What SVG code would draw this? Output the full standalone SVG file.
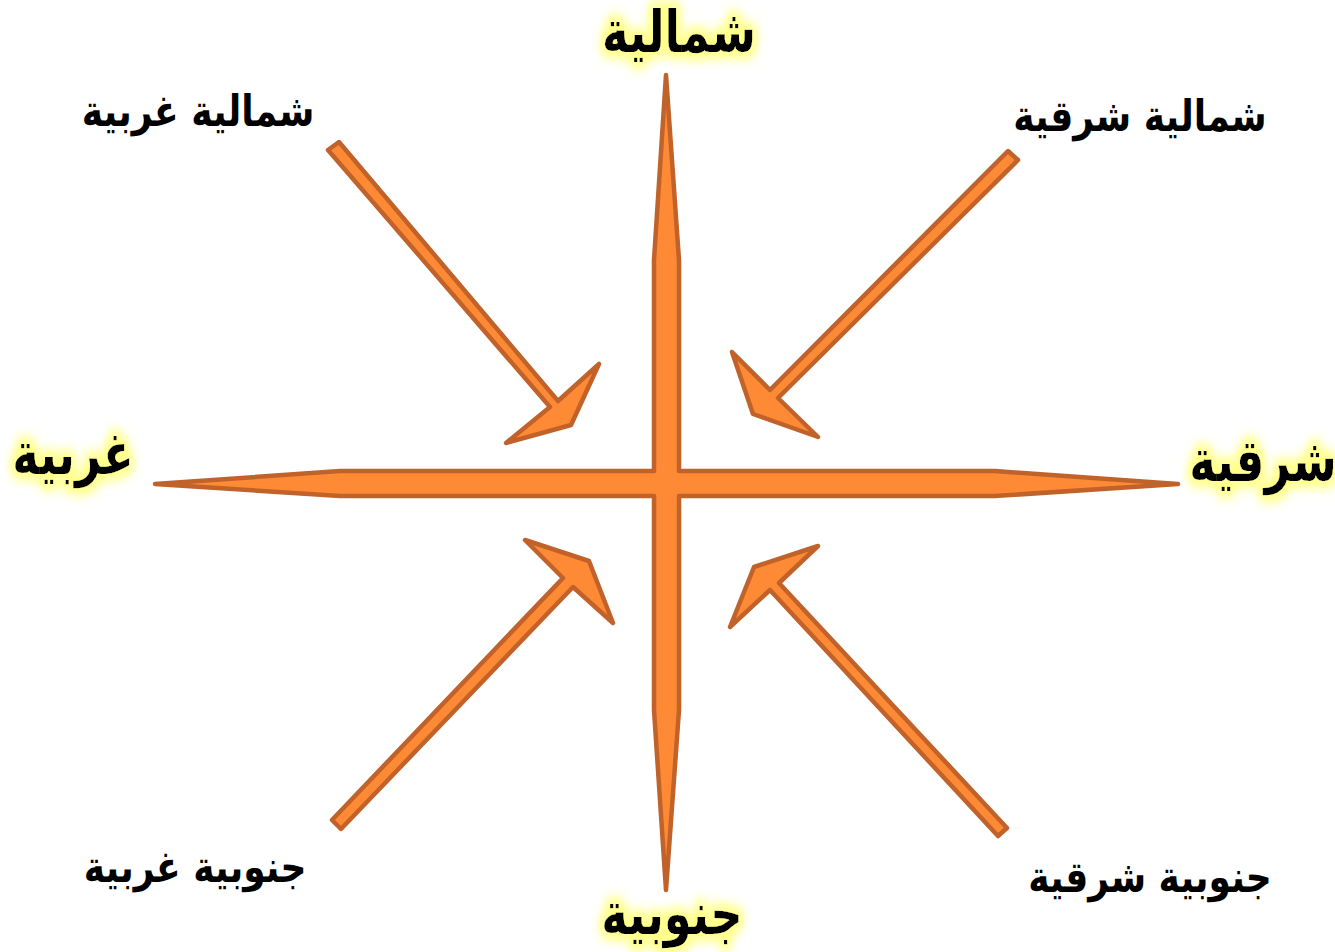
<svg xmlns="http://www.w3.org/2000/svg" width="1335" height="952" viewBox="0 0 1335 952">
<style>
.shape{fill:#FF8A35;stroke:#C0622A;stroke-width:4.5;stroke-linejoin:round}
.main{font-family:"DejaVu Sans",sans-serif;font-weight:bold;font-size:45px;fill:#000;text-anchor:middle;filter:url(#glow)}
.sub{font-family:"DejaVu Sans",sans-serif;font-weight:bold;font-size:36px;fill:#000;text-anchor:middle}
</style>
<defs>
<filter id="glow" x="-30%" y="-40%" width="160%" height="180%">
<feMorphology in="SourceAlpha" operator="dilate" radius="3" result="d"/>
<feGaussianBlur in="d" stdDeviation="5" result="b"/>
<feFlood flood-color="#FFFF8C" result="c"/>
<feComposite in="c" in2="b" operator="in" result="g"/>
<feMerge><feMergeNode in="g"/><feMergeNode in="g"/><feMergeNode in="SourceGraphic"/></feMerge>
</filter>
</defs>
<rect width="1335" height="952" fill="#fff"/>
<g id="connectors">
<path id="cross" class="shape" d="M666,75 L679,260 L679,471 L995,471 L1178,484 L995,496 L679,496 L679,710 L666,890 L654,710 L654,496 L340,496 L155,484 L340,471 L654,471 L654,260 Z"/>
<path id="arrow-nw" class="shape" d="M328,150 L339,142 L558,401 L599,364 L571,425 L506,443 L550,407 Z"/>
<path id="arrow-ne" class="shape" d="M1008,151 L1018,160 L778,398 L818,437 L753,414 L732,352 L770,390 Z"/>
<path id="arrow-sw" class="shape" d="M525,540 L589,561 L613,623 L573,587 L341,829 L332,820 L563,578 Z"/>
<path id="arrow-se" class="shape" d="M818,546 L754,567 L730,627 L770,590 L998,836 L1007,828 L779,583 Z"/>
</g>
<g id="north"><text class="main" transform="translate(679,52) scale(1,1.3)">شمالية</text></g>
<g id="south"><text class="main" transform="translate(672,934) scale(1,1.3)">جنوبية</text></g>
<g id="west"><text class="main" transform="translate(73,474) scale(1,1.3)">غربية</text></g>
<g id="east"><text class="main" transform="translate(1263,481) scale(1,1.3)">شرقية</text></g>
<g id="northwest"><text class="sub" transform="translate(198,126) scale(1,1.2)">شمالية غربية</text></g>
<g id="northeast"><text class="sub" transform="translate(1140,131) scale(1,1.2)">شمالية شرقية</text></g>
<g id="southwest"><text class="sub" transform="translate(195,882) scale(1,1.2)">جنوبية غربية</text></g>
<g id="southeast"><text class="sub" transform="translate(1150,892) scale(1,1.2)">جنوبية شرقية</text></g>
</svg>
